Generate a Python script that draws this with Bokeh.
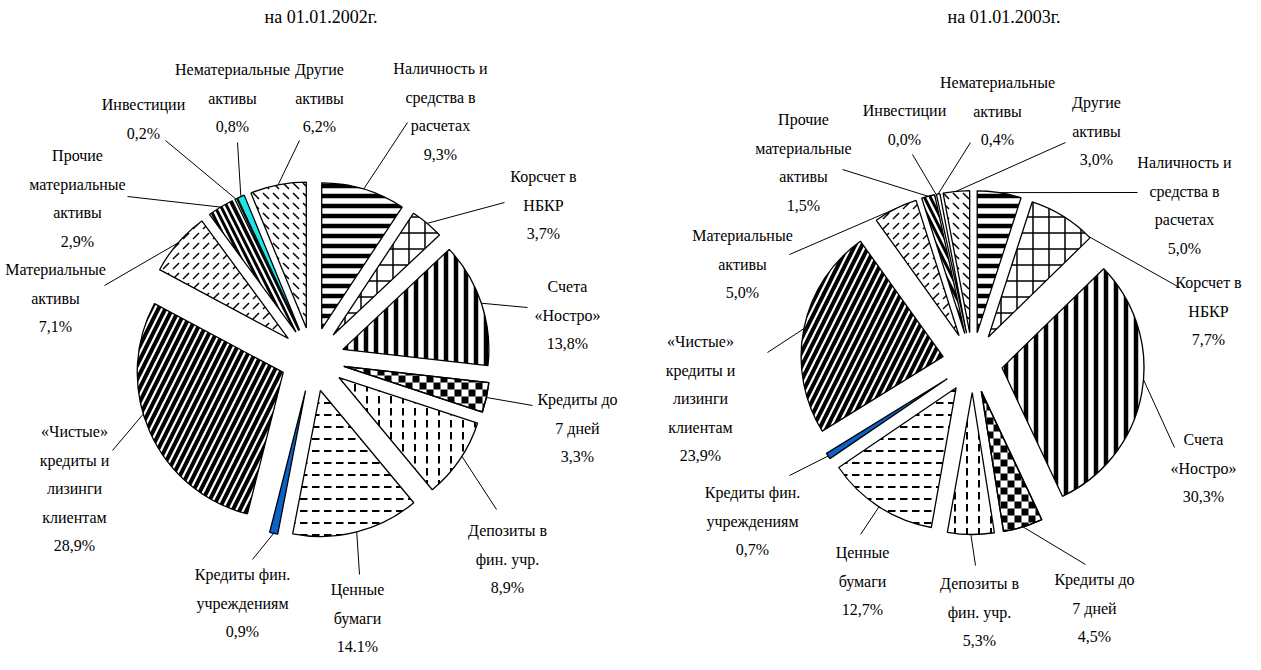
import math
from bokeh.plotting import figure
from bokeh.models import Range1d, ColumnDataSource
from bokeh.core.properties import value
from bokeh.embed import file_html
from bokeh.resources import INLINE

# ---------------- data ----------------
categories = [
    "Наличность и\nсредства в\nрасчетах",
    "Корсчет в\nНБКР",
    "Счета\n«Ностро»",
    "Кредиты до\n7 дней",
    "Депозиты в\nфин. учр.",
    "Ценные\nбумаги",
    "Кредиты фин.\nучреждениям",
    "«Чистые»\nкредиты и\nлизинги\nклиентам",
    "Материальные\nактивы",
    "Прочие\nматериальные\nактивы",
    "Инвестиции",
    "Нематериальные\nактивы",
    "Другие\nактивы",
]
values_2002 = [9.3, 3.7, 13.8, 3.3, 8.9, 14.1, 0.9, 28.9, 7.1, 2.9, 0.2, 0.8, 6.2]
values_2003 = [5.0, 7.7, 30.3, 4.5, 5.3, 12.7, 0.7, 23.9, 5.0, 1.5, 0.0, 0.4, 3.0]
pct_2002 = ["9,3%", "3,7%", "13,8%", "3,3%", "8,9%", "14.1%", "0,9%", "28,9%",
            "7,1%", "2,9%", "0,2%", "0,8%", "6,2%"]
pct_2003 = ["5,0%", "7,7%", "30,3%", "4,5%", "5,3%", "12,7%", "0,7%", "23,9%",
            "5,0%", "1,5%", "0,0%", "0,4%", "3,0%"]
titles = ["на   01.01.2002г.", "на   01.01.2003г."]

# ---------------- styles ----------------
styles = [
    dict(fill="white", pattern="horizontal_line", scale=10, weight=4.5),
    dict(fill="white", pattern="cross", scale=16, weight=1.5),
    dict(fill="white", pattern="vertical_line", scale=10, weight=4.5),
    dict(fill="white", pattern="checker", scale=7, weight=1),
    dict(fill="white", pattern="vertical_dash", scale=12, weight=2),
    dict(fill="white", pattern="horizontal_dash", scale=12, weight=2),
    dict(fill="#0b63c9", pattern=None, scale=1, weight=1),
    dict(fill="white", pattern="right_diagonal_line", scale=14, weight=4),
    dict(fill="white", pattern="right_diagonal_dash", scale=10, weight=1.5),
    dict(fill="white", pattern="left_diagonal_line", scale=12, weight=3),
    dict(fill="white", pattern=None, scale=1, weight=1),
    dict(fill="#1ee6e6", pattern=None, scale=1, weight=1),
    dict(fill="white", pattern="left_diagonal_dash", scale=10, weight=1.5),
]

# ---------------- layout (page pixels) ----------------
W, H = 1245, 654
PAGE_H = 670
FONT = "Liberation Serif"
FS = "16px"
TITLE_FS = "18px"
LINE_STEP = 28.6

pies = [
    dict(values=values_2002, pct=pct_2002, title=titles[0], title_xy=(333, 24),
         center=(320, 367), offset=32, radius=146, fill_override={},
         label_xy=[(448, 76), (551, 184), (575, 294), (585, 407), (515, 538), (365, 597),
                   (250, 582), (82, 439), (63, 277), (85, 163), (151, 112), (240, 77), (327, 77)],
         leader_end=[(415, 130), (512, 210), (535, 315), (540, 413), (504, 517), (367, 582),
                     (260, 567), (120, 458), (112, 293), (135, 204), (173, 148), (245, 150), (307, 148)],
         frac=[0.5, 0.5, 0.5, 0.5, 0.45, 0.5, 0.5, 0.57, 0.5, 0.5, 0.5, 0.5, 0.5]),
    dict(values=values_2003, pct=pct_2003, title=titles[1], title_xy=(1016, 24),
         center=(980, 370), offset=30, radius=142, fill_override={11: "white"},
         label_xy=[(1192, 170), (1216, 290), (1211, 447), (1102, 587), (987, 591), (870, 560),
                   (760, 500), (708, 349), (750, 243), (811, 127), (912, 118), (1005, 90), (1104, 110)],
         leader_end=[(1145, 200), (1187, 295), (1182, 455), (1093, 572), (983, 573), (868, 542),
                     (797, 483), (775, 360), (797, 262), (850, 177), (920, 162), (978, 150), (1073, 150)],
         frac=[0.5, 0.97, 0.45, 0.5, 0.5, 0.5, 0.5, 0.5, 0.5, 0.5, 0.5, 0.5, 0.5]),
]


def ydat(yp):
    return PAGE_H - yp


def sector_poly(tx, ty, R, a0, a1, n=40):
    pts = [(tx, ty)]
    for k in range(n + 1):
        a = math.radians(a0 + (a1 - a0) * k / n)
        pts.append((tx + R * math.sin(a), ty + R * math.cos(a)))
    return pts[::-1]  # counter-clockwise


def clip_poly(subject, clipper):
    def inside(p, a, b):
        return (b[0] - a[0]) * (p[1] - a[1]) - (b[1] - a[1]) * (p[0] - a[0]) >= 0

    def inter(p1, p2, a, b):
        x1, y1 = p1
        x2, y2 = p2
        x3, y3 = a
        x4, y4 = b
        den = (x1 - x2) * (y3 - y4) - (y1 - y2) * (x3 - x4)
        if abs(den) < 1e-12:
            return p2
        t = ((x1 - x3) * (y3 - y4) - (y1 - y3) * (x3 - x4)) / den
        return (x1 + t * (x2 - x1), y1 + t * (y2 - y1))

    out = subject
    n = len(clipper)
    for k in range(n):
        a, b = clipper[k], clipper[(k + 1) % n]
        inp, out = out, []
        if not inp:
            break
        s = inp[-1]
        for e in inp:
            if inside(e, a, b):
                if not inside(s, a, b):
                    out.append(inter(s, e, a, b))
                out.append(e)
            elif inside(s, a, b):
                out.append(inter(s, e, a, b))
            s = e
    return out


p = figure(width=W, height=H, x_range=Range1d(8, 8 + W), y_range=Range1d(PAGE_H - 8 - H, PAGE_H - 8),
           output_backend="svg", toolbar_location=None, x_axis_location=None, y_axis_location=None,
           min_border=0, outline_line_color=None, background_fill_color="white")
p.grid.visible = False

text_x, text_y, text_s = [], [], []
title_x, title_y, title_s = [], [], []
lx0, ly0, lx1, ly1 = [], [], [], []

for pie in pies:
    vals = pie["values"]
    total = float(sum(vals))
    cx, cy = pie["center"][0], ydat(pie["center"][1])
    off, R = pie["offset"], pie["radius"]
    cum = 0.0
    for i, v in enumerate(vals):
        a0 = cum / total * 360.0
        cum += v
        a1 = cum / total * 360.0
        m = math.radians((a0 + a1) / 2)
        tx = cx + off * math.sin(m)
        ty = cy + off * math.cos(m)
        st = styles[i]
        fill = pie["fill_override"].get(i, st["fill"])
        sa, ea = math.radians(90 - a0), math.radians(90 - a1)
        if v > 0:
            kw = dict(fill_color=fill, line_color="black", line_width=1.3)
            pat = st["pattern"]
            if pat and pat != "checker":
                kw.update(hatch_pattern=pat, hatch_color="black",
                          hatch_scale=st["scale"], hatch_weight=st["weight"])
            p.wedge(x=[tx], y=[ty], radius=R, start_angle=sa, end_angle=ea,
                    direction="clock", **kw)
            if pat == "checker":
                cell = st["scale"]
                sec = sector_poly(tx, ty, R, a0, a1)
                xs_all = [q[0] for q in sec]
                ys_all = [q[1] for q in sec]
                i0 = int(math.floor(min(xs_all) / cell)) - 1
                i1 = int(math.ceil(max(xs_all) / cell)) + 1
                j0 = int(math.floor(min(ys_all) / cell)) - 1
                j1 = int(math.ceil(max(ys_all) / cell)) + 1
                pxs, pys = [], []
                for gi in range(i0, i1):
                    for gj in range(j0, j1):
                        if (gi + gj) % 2:
                            continue
                        sq = [(gi * cell, gj * cell), ((gi + 1) * cell, gj * cell),
                              ((gi + 1) * cell, (gj + 1) * cell), (gi * cell, (gj + 1) * cell)]
                        cp = clip_poly(sq, sec)
                        if len(cp) >= 3:
                            pxs.append([q[0] for q in cp])
                            pys.append([q[1] for q in cp])
                p.patches(xs=pxs, ys=pys, fill_color="black", line_color=None)
                p.wedge(x=[tx], y=[ty], radius=R, start_angle=sa, end_angle=ea,
                        direction="clock", fill_color=None, line_color="black", line_width=1.3)
        # leader line
        la = math.radians(a0 + pie["frac"][i] * (a1 - a0))
        lx0.append(tx + R * math.sin(la))
        ly0.append(ty + R * math.cos(la))
        ex, ey = pie["leader_end"][i]
        lx1.append(ex)
        ly1.append(ydat(ey))
        # label lines
        lines = categories[i].split("\n") + [pie["pct"][i]]
        bx, by = pie["label_xy"][i]
        for k, s in enumerate(lines):
            text_x.append(bx)
            text_y.append(ydat(by + k * LINE_STEP))
            text_s.append(s)
    title_x.append(pie["title_xy"][0])
    title_y.append(ydat(pie["title_xy"][1]))
    title_s.append(pie["title"])

p.segment(x0=lx0, y0=ly0, x1=lx1, y1=ly1, line_color="black", line_width=1)
p.text(x="x", y="y", text="t", source=ColumnDataSource(dict(x=text_x, y=text_y, t=text_s)),
       text_font=value(FONT), text_font_size=FS, text_align="center", text_baseline="middle",
       text_color="black")
p.text(x="x", y="y", text="t", source=ColumnDataSource(dict(x=title_x, y=title_y, t=title_s)),
       text_font=value(FONT), text_font_size=TITLE_FS, text_align="center", text_baseline="middle",
       text_color="black")

open("out.html", "w").write(file_html(p, INLINE))
